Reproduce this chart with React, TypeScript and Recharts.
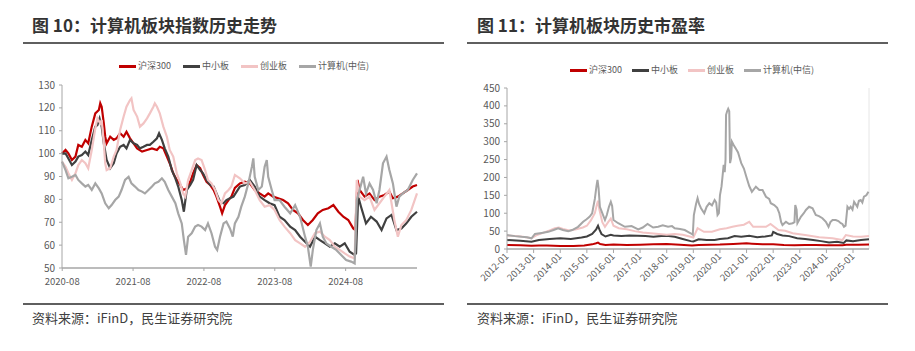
import React from 'react';
import { LineChart, Line, XAxis, YAxis, ReferenceLine } from 'recharts';

const FONT = '"Microsoft YaHei", "Noto Sans CJK SC", sans-serif';

const seriesNames = ['沪深300', '中小板', '创业板', '计算机(中信)'];
const seriesColors = ['#c00000', '#404040', '#f2c4c4', '#a6a6a6'];

// 图10: index history, points as [year, value]
const idxXTicks = [2020.583, 2021.583, 2022.583, 2023.583, 2024.583];
const idxXLabels = ['2020-08', '2021-08', '2022-08', '2023-08', '2024-08'];
const idxYTicks = [50, 60, 70, 80, 90, 100, 110, 120, 130];

const idxHs300: [number, number][] = [
    [2020.58, 100], [2020.63, 101.6], [2020.67, 100.1], [2020.72, 97.2], [2020.77, 98.7], [2020.81, 103.8],
    [2020.86, 103.0], [2020.91, 106.0], [2020.95, 104.5], [2021.0, 111.8], [2021.05, 117.6], [2021.1, 119.1],
    [2021.12, 122.0], [2021.14, 120.5], [2021.17, 113.2], [2021.19, 107.4], [2021.21, 104.5], [2021.26, 107.4],
    [2021.31, 106.0], [2021.35, 106.7], [2021.4, 108.9], [2021.45, 107.4], [2021.49, 109.6], [2021.54, 106.7],
    [2021.59, 104.5], [2021.64, 102.3], [2021.71, 100.9], [2021.78, 101.6], [2021.85, 102.3], [2021.92, 101.6],
    [2021.96, 103.0], [2022.01, 102.3], [2022.06, 98.7], [2022.1, 95.8], [2022.15, 91.4], [2022.2, 88.5],
    [2022.25, 86.3], [2022.29, 84.1], [2022.34, 84.8], [2022.39, 87.7], [2022.43, 91.4], [2022.48, 95.0],
    [2022.53, 93.6], [2022.57, 90.7], [2022.62, 87.7], [2022.67, 86.3], [2022.72, 84.1], [2022.76, 81.2],
    [2022.81, 76.8], [2022.84, 73.9], [2022.88, 77.5], [2022.93, 79.7], [2022.97, 81.2], [2023.02, 85.0],
    [2023.09, 87.0], [2023.16, 87.7], [2023.23, 87.0], [2023.3, 84.1], [2023.37, 82.6], [2023.44, 81.2],
    [2023.49, 82.6], [2023.56, 81.2], [2023.63, 80.5], [2023.7, 79.7], [2023.77, 78.3], [2023.84, 75.4],
    [2023.91, 73.9], [2023.98, 71.0], [2024.05, 68.8], [2024.12, 71.0], [2024.19, 73.9], [2024.26, 75.4],
    [2024.34, 76.1], [2024.41, 77.5], [2024.48, 74.6], [2024.55, 72.4], [2024.62, 71.0], [2024.69, 67.3],
    [2024.72, 66.6], [2024.75, 88.5], [2024.78, 84.1], [2024.85, 81.2], [2024.92, 82.6], [2024.99, 79.7],
    [2025.06, 81.2], [2025.13, 81.9], [2025.2, 83.4], [2025.25, 80.5], [2025.32, 81.2], [2025.39, 82.6],
    [2025.46, 84.1], [2025.53, 85.6], [2025.59, 86.3],
];

const idxSme: [number, number][] = [
    [2020.58, 100], [2020.63, 100.1], [2020.67, 97.9], [2020.72, 95.0], [2020.77, 96.5], [2020.81, 98.7],
    [2020.86, 99.4], [2020.91, 100.9], [2020.95, 99.4], [2021.0, 106.0], [2021.05, 111.8], [2021.08, 112.5],
    [2021.11, 115.4], [2021.14, 111.8], [2021.17, 104.5], [2021.21, 97.2], [2021.26, 93.6], [2021.31, 95.8],
    [2021.35, 100.1], [2021.4, 103.0], [2021.45, 103.8], [2021.49, 102.3], [2021.54, 106.0], [2021.59, 104.5],
    [2021.64, 103.8], [2021.68, 102.3], [2021.73, 103.0], [2021.78, 103.8], [2021.82, 103.8], [2021.87, 105.2],
    [2021.92, 106.7], [2021.95, 108.9], [2021.99, 106.0], [2022.03, 102.3], [2022.08, 98.7], [2022.13, 92.8],
    [2022.18, 89.2], [2022.22, 85.6], [2022.27, 79.7], [2022.3, 74.6], [2022.34, 84.1], [2022.39, 86.3],
    [2022.43, 88.5], [2022.48, 95.0], [2022.53, 92.8], [2022.57, 91.4], [2022.62, 88.5], [2022.67, 86.3],
    [2022.72, 85.6], [2022.76, 82.6], [2022.81, 79.0], [2022.86, 78.3], [2022.9, 79.7], [2022.95, 80.5],
    [2023.0, 81.2], [2023.09, 85.6], [2023.16, 86.3], [2023.23, 88.5], [2023.3, 85.6], [2023.37, 81.2],
    [2023.44, 79.7], [2023.51, 78.3], [2023.58, 77.5], [2023.65, 72.4], [2023.72, 71.0], [2023.8, 68.1],
    [2023.87, 66.6], [2023.94, 63.7], [2024.01, 61.5], [2024.08, 59.3], [2024.15, 63.7], [2024.22, 62.2],
    [2024.29, 60.8], [2024.36, 59.3], [2024.43, 60.8], [2024.5, 59.3], [2024.57, 60.8], [2024.64, 57.1],
    [2024.71, 55.7], [2024.73, 56.4], [2024.76, 81.2], [2024.8, 76.8], [2024.87, 69.5], [2024.94, 72.4],
    [2025.02, 70.3], [2025.09, 66.6], [2025.16, 71.7], [2025.23, 73.2], [2025.3, 66.6], [2025.37, 67.3],
    [2025.44, 69.5], [2025.51, 72.4], [2025.59, 74.6],
];

const idxGem: [number, number][] = [
    [2020.58, 96.5], [2020.63, 94.3], [2020.67, 91.4], [2020.72, 88.5], [2020.77, 91.4], [2020.81, 95.0],
    [2020.86, 97.2], [2020.91, 95.8], [2020.95, 93.6], [2021.0, 101.6], [2021.05, 111.1], [2021.08, 115.4],
    [2021.12, 113.2], [2021.14, 114.7], [2021.17, 104.5], [2021.19, 95.8], [2021.21, 92.8], [2021.26, 93.6],
    [2021.31, 98.7], [2021.35, 101.6], [2021.4, 110.3], [2021.45, 116.2], [2021.49, 120.5], [2021.54, 123.4],
    [2021.56, 124.2], [2021.59, 119.1], [2021.64, 116.2], [2021.68, 111.8], [2021.73, 113.2], [2021.78, 115.4],
    [2021.82, 117.6], [2021.87, 120.5], [2021.89, 122.0], [2021.92, 120.5], [2021.96, 117.6], [2022.01, 111.8],
    [2022.06, 107.4], [2022.1, 101.6], [2022.15, 98.7], [2022.2, 91.4], [2022.25, 87.0], [2022.29, 82.6],
    [2022.32, 81.2], [2022.36, 88.5], [2022.41, 92.8], [2022.46, 97.2], [2022.5, 97.9], [2022.55, 97.2],
    [2022.6, 92.8], [2022.64, 88.5], [2022.69, 87.0], [2022.74, 84.1], [2022.79, 79.7], [2022.83, 78.3],
    [2022.88, 82.6], [2022.93, 84.1], [2022.97, 85.6], [2023.02, 90.7], [2023.09, 89.2], [2023.16, 87.0],
    [2023.23, 87.7], [2023.3, 84.1], [2023.37, 79.7], [2023.44, 76.8], [2023.51, 77.5], [2023.58, 75.4],
    [2023.65, 71.0], [2023.72, 68.1], [2023.8, 65.2], [2023.87, 62.2], [2023.94, 60.8], [2024.01, 59.3],
    [2024.08, 61.5], [2024.15, 65.2], [2024.22, 65.9], [2024.29, 63.7], [2024.36, 62.2], [2024.43, 59.3],
    [2024.5, 57.9], [2024.57, 56.4], [2024.64, 55.0], [2024.71, 54.2], [2024.74, 88.5], [2024.78, 81.2],
    [2024.85, 79.7], [2024.92, 81.2], [2024.99, 75.4], [2025.06, 78.3], [2025.13, 81.2], [2025.2, 84.1],
    [2025.27, 71.0], [2025.32, 63.7], [2025.37, 68.8], [2025.44, 71.0], [2025.51, 75.4], [2025.59, 82.6],
];

const idxComputer: [number, number][] = [
    [2020.58, 96.5], [2020.63, 92.8], [2020.67, 89.2], [2020.72, 89.9], [2020.77, 90.7], [2020.81, 88.5],
    [2020.86, 87.0], [2020.91, 85.6], [2020.95, 86.3], [2021.0, 84.1], [2021.05, 87.0], [2021.1, 84.8],
    [2021.14, 82.6], [2021.19, 78.3], [2021.24, 76.1], [2021.28, 77.5], [2021.33, 79.7], [2021.38, 81.2],
    [2021.42, 84.1], [2021.47, 88.5], [2021.52, 89.9], [2021.56, 87.0], [2021.61, 85.6], [2021.66, 84.1],
    [2021.71, 83.4], [2021.75, 82.6], [2021.8, 84.1], [2021.85, 85.6], [2021.89, 87.0], [2021.94, 87.7],
    [2021.99, 89.2], [2022.03, 87.7], [2022.08, 84.1], [2022.13, 81.2], [2022.18, 78.3], [2022.22, 73.9],
    [2022.27, 69.5], [2022.3, 62.2], [2022.33, 55.7], [2022.36, 63.7], [2022.41, 65.2], [2022.46, 68.1],
    [2022.5, 68.8], [2022.55, 68.1], [2022.6, 66.6], [2022.64, 69.5], [2022.69, 65.2], [2022.74, 59.3],
    [2022.77, 57.9], [2022.81, 63.7], [2022.86, 69.5], [2022.9, 70.3], [2022.95, 67.3], [2022.99, 63.7],
    [2023.02, 69.5], [2023.07, 72.4], [2023.11, 76.8], [2023.16, 81.2], [2023.21, 87.0], [2023.26, 94.3],
    [2023.28, 97.9], [2023.3, 89.9], [2023.35, 84.1], [2023.4, 85.6], [2023.44, 94.3], [2023.47, 97.2],
    [2023.49, 89.9], [2023.54, 84.1], [2023.58, 79.7], [2023.65, 79.7], [2023.72, 76.8], [2023.8, 73.9],
    [2023.87, 77.5], [2023.94, 72.4], [2024.01, 63.7], [2024.05, 59.3], [2024.09, 50.6], [2024.12, 57.9],
    [2024.17, 66.6], [2024.22, 69.5], [2024.26, 63.7], [2024.31, 60.8], [2024.38, 59.3], [2024.45, 57.9],
    [2024.52, 55.7], [2024.59, 53.5], [2024.66, 52.8], [2024.71, 52.0], [2024.74, 79.7], [2024.78, 84.1],
    [2024.83, 89.9], [2024.87, 82.6], [2024.92, 87.0], [2024.97, 84.1], [2025.02, 78.3], [2025.06, 84.1],
    [2025.11, 95.8], [2025.16, 98.7], [2025.2, 92.8], [2025.25, 87.0], [2025.3, 76.8], [2025.34, 81.2],
    [2025.39, 82.6], [2025.46, 84.1], [2025.53, 88.5], [2025.59, 91.4],
];

// 图11: PE history, points as [year, PE]
const peXTicks = [2012, 2013, 2014, 2015, 2016, 2017, 2018, 2019, 2020, 2021, 2022, 2023, 2024, 2025];
const peXLabels = ['2012-01', '2013-01', '2014-01', '2015-01', '2016-01', '2017-01', '2018-01',
    '2019-01', '2020-01', '2021-01', '2022-01', '2023-01', '2024-01', '2025-01'];
const peYTicks = [0, 50, 100, 150, 200, 250, 300, 350, 400, 450];

const peHs300: [number, number][] = [
    [2012.0, 11], [2012.5, 10.5], [2012.92, 9], [2013.2, 10], [2013.5, 9.5], [2014.0, 8.5], [2014.5, 8.5],
    [2014.9, 10], [2015.2, 13], [2015.35, 16], [2015.42, 18], [2015.5, 14], [2015.7, 11.5], [2016.0, 12.5],
    [2016.5, 11.5], [2017.0, 12], [2017.5, 13], [2018.0, 14], [2018.5, 12], [2018.95, 10], [2019.2, 11.5],
    [2019.6, 12], [2020.0, 12.5], [2020.5, 14], [2021.0, 16], [2021.2, 15], [2021.6, 13], [2022.0, 13],
    [2022.4, 11], [2022.8, 10.5], [2023.2, 11.5], [2023.6, 11], [2024.0, 10.5], [2024.6, 10.5],
    [2024.75, 12], [2025.2, 12], [2025.6, 12.5],
];

const peSme: [number, number][] = [
    [2012.0, 25], [2012.5, 23], [2012.92, 20], [2013.2, 25], [2013.6, 28], [2014.0, 30], [2014.4, 28],
    [2014.8, 32], [2015.0, 35], [2015.2, 42], [2015.35, 55], [2015.42, 65], [2015.47, 55], [2015.55, 42],
    [2015.7, 35], [2015.9, 40], [2016.0, 38], [2016.3, 36], [2016.6, 38], [2016.9, 37], [2017.2, 36],
    [2017.5, 34], [2017.8, 36], [2018.0, 37], [2018.3, 34], [2018.6, 28], [2018.9, 22], [2019.0, 21],
    [2019.2, 27], [2019.5, 25], [2019.8, 25], [2020.0, 28], [2020.3, 30], [2020.55, 36], [2020.8, 34],
    [2021.1, 37], [2021.4, 33], [2021.7, 35], [2021.95, 38], [2022.0, 48], [2022.15, 42], [2022.35, 38],
    [2022.6, 36], [2022.9, 30], [2023.2, 28], [2023.5, 25], [2023.8, 22], [2024.1, 18], [2024.4, 20],
    [2024.65, 17], [2024.75, 24], [2025.0, 22], [2025.3, 25], [2025.6, 27],
];

const peGem: [number, number][] = [
    [2012.0, 38], [2012.3, 36], [2012.6, 34], [2012.92, 30], [2013.1, 38], [2013.35, 45], [2013.6, 52],
    [2013.8, 58], [2013.95, 60], [2014.1, 56], [2014.35, 52], [2014.6, 55], [2014.85, 60], [2015.0, 65],
    [2015.15, 80], [2015.3, 100], [2015.38, 125], [2015.42, 135], [2015.47, 110], [2015.58, 75],
    [2015.68, 62], [2015.8, 75], [2015.9, 85], [2016.0, 65], [2016.2, 58], [2016.5, 55], [2016.8, 50],
    [2017.1, 46], [2017.4, 44], [2017.7, 42], [2018.0, 40], [2018.3, 42], [2018.6, 40], [2018.9, 34],
    [2019.0, 32], [2019.16, 58], [2019.4, 48], [2019.7, 48], [2020.0, 55], [2020.25, 58], [2020.47, 62],
    [2020.66, 65], [2020.9, 68], [2021.1, 76], [2021.25, 62], [2021.5, 62], [2021.73, 62], [2021.9, 70],
    [2022.2, 53], [2022.45, 51], [2022.73, 44], [2023.2, 39], [2023.73, 33], [2024.23, 30], [2024.6, 25],
    [2024.73, 39], [2025.0, 35], [2025.3, 34], [2025.6, 36],
];

const peComputer: [number, number][] = [
    [2012.0, 39], [2012.3, 36], [2012.55, 34], [2012.75, 33], [2012.92, 30], [2013.05, 42], [2013.3, 45],
    [2013.55, 48], [2013.75, 53], [2013.92, 58], [2014.1, 53], [2014.3, 50], [2014.45, 53], [2014.67, 62],
    [2014.86, 76], [2014.99, 83], [2015.1, 90], [2015.2, 100], [2015.3, 140], [2015.36, 175], [2015.4, 193],
    [2015.44, 170], [2015.49, 118], [2015.58, 100], [2015.68, 81], [2015.75, 95], [2015.83, 118],
    [2015.9, 132], [2015.95, 120], [2016.0, 81], [2016.18, 72], [2016.43, 62], [2016.68, 64], [2016.93, 55],
    [2017.1, 60], [2017.28, 70], [2017.49, 60], [2017.68, 62], [2017.85, 66], [2018.05, 62], [2018.2, 64],
    [2018.3, 58], [2018.5, 56], [2018.68, 53], [2018.8, 48], [2018.9, 44], [2018.98, 40], [2019.02, 95],
    [2019.1, 125], [2019.16, 142], [2019.22, 125], [2019.29, 114], [2019.41, 100], [2019.5, 118],
    [2019.6, 128], [2019.7, 122], [2019.8, 137], [2019.86, 130], [2019.91, 95], [2019.96, 100],
    [2020.0, 150], [2020.06, 175], [2020.1, 205], [2020.14, 235], [2020.18, 215], [2020.21, 250],
    [2020.23, 375], [2020.27, 385], [2020.31, 392], [2020.35, 385], [2020.38, 240], [2020.42, 255],
    [2020.45, 300], [2020.52, 290], [2020.6, 280], [2020.68, 270], [2020.8, 240], [2020.9, 225],
    [2021.0, 200], [2021.1, 176], [2021.2, 160], [2021.35, 174], [2021.48, 165], [2021.6, 165],
    [2021.73, 146], [2021.85, 140], [2021.91, 128], [2022.04, 123], [2022.15, 115], [2022.23, 100],
    [2022.3, 75], [2022.35, 67], [2022.48, 76], [2022.6, 70], [2022.73, 72], [2022.8, 75], [2022.83, 123],
    [2022.88, 110], [2022.91, 72], [2023.04, 90], [2023.15, 100], [2023.23, 109], [2023.35, 118],
    [2023.48, 114], [2023.6, 95], [2023.72, 92], [2023.85, 86], [2023.98, 76], [2024.08, 62], [2024.15, 75],
    [2024.23, 81], [2024.35, 81], [2024.45, 78], [2024.54, 72], [2024.6, 70], [2024.66, 62], [2024.72, 65],
    [2024.79, 118], [2024.85, 112], [2024.91, 118], [2024.98, 110], [2025.04, 132], [2025.1, 125],
    [2025.16, 118], [2025.22, 135], [2025.29, 137], [2025.35, 130], [2025.41, 146], [2025.5, 150],
    [2025.58, 160],
];

const pts = (arr: [number, number][]) => arr.map(([t, v]) => ({ t, v }));

const tickStyle = { fontSize: 10, fill: '#595959', fontFamily: FONT };
const axisGray = '#a6a6a6';

function LegendRow({ left, top, gap }: { left: number; top: number; gap: number }) {
    return (
        <div style={{ position: 'absolute', left, top, display: 'flex', alignItems: 'center', fontSize: 9, color: '#595959', whiteSpace: 'nowrap', lineHeight: '12px' }}>
            {seriesNames.map((name, i) => (
                <div key={name} style={{ display: 'flex', alignItems: 'center', marginRight: i < seriesNames.length - 1 ? gap : 0 }}>
                    <span style={{ display: 'inline-block', width: 17, height: 3, background: seriesColors[i], marginRight: 2 }} />
                    <span>{name}</span>
                </div>
            ))}
        </div>
    );
}

function Header({ left, ruleLeft, text }: { left: number; ruleLeft: number; text: string }) {
    return (
        <>
            <div style={{ position: 'absolute', left, top: 15, fontSize: 17, fontWeight: 700, color: '#333', lineHeight: '20px', whiteSpace: 'nowrap' }}>{text}</div>
            <div style={{ position: 'absolute', left: ruleLeft, top: 42, width: 421, height: 2, background: '#5f5f5f' }} />
            <div style={{ position: 'absolute', left: ruleLeft, top: 303, width: 421, height: 2, background: '#5f5f5f' }} />
            <div style={{ position: 'absolute', left, top: 310, fontSize: 13, color: '#404040', lineHeight: '16px', whiteSpace: 'nowrap' }}>资料来源：iFinD，民生证券研究院</div>
        </>
    );
}

const RotatedTick = (props: any) => {
    const { x, y, payload } = props;
    const label = peXLabels[peXTicks.indexOf(payload.value)] ?? '';
    return (
        <text x={x} y={y} dy={3} textAnchor="end" fontSize={9.5} fill="#595959" fontFamily={FONT} transform={`rotate(-45 ${x} ${y})`}>
            {label}
        </text>
    );
};

const idxSeries = [idxHs300, idxSme, idxGem, idxComputer];
const peSeries = [peHs300, peSme, peGem, peComputer];

export default function App() {
    return (
        <div style={{ position: 'absolute', left: 0, top: 0, width: 915, height: 351, background: '#fff', fontFamily: FONT, overflow: 'hidden' }}>
            <Header left={32} ruleLeft={23} text="图 10：计算机板块指数历史走势" />
            <Header left={477} ruleLeft={467} text="图 11：计算机板块历史市盈率" />

            <LegendRow left={119} top={60} gap={12} />
            <LegendRow left={570} top={64} gap={10} />

            <div style={{ position: 'absolute', left: 0, top: 75 }}>
                <LineChart width={450} height={225} margin={{ top: 10, right: 33, bottom: 10, left: 12 }}>
                    <XAxis
                        type="number"
                        dataKey="t"
                        domain={[2020.583, 2025.59]}
                        ticks={idxXTicks}
                        tickFormatter={(v: number) => idxXLabels[idxXTicks.indexOf(v)] ?? ''}
                        height={22}
                        tick={{ ...tickStyle, fontSize: 9.5 }}
                        tickSize={3}
                        tickMargin={7}
                        axisLine={{ stroke: axisGray, strokeWidth: 1.5 }}
                        tickLine={{ stroke: axisGray }}
                        interval={0}
                    />
                    <YAxis
                        type="number"
                        domain={[50, 130]}
                        ticks={idxYTicks}
                        width={50}
                        tick={tickStyle}
                        tickSize={3}
                        tickMargin={4}
                        axisLine={{ stroke: axisGray }}
                        tickLine={{ stroke: axisGray }}
                        interval={0}
                    />
                    {idxSeries.map((s, i) => (
                        <Line
                            key={seriesNames[i]}
                            data={pts(s)}
                            dataKey="v"
                            name={seriesNames[i]}
                            stroke={seriesColors[i]}
                            strokeWidth={2.2}
                            dot={false}
                            type="linear"
                            isAnimationActive={false}
                        />
                    ))}
                </LineChart>
            </div>

            <div style={{ position: 'absolute', left: 460, top: 75 }}>
                <LineChart width={420} height={225} margin={{ top: 13, right: 11, bottom: 6, left: 7 }}>
                    <XAxis
                        type="number"
                        dataKey="t"
                        domain={[2012, 2025.6]}
                        ticks={peXTicks}
                        height={45}
                        tick={<RotatedTick />}
                        tickSize={4}
                        tickMargin={2}
                        axisLine={{ stroke: axisGray, strokeWidth: 1.5 }}
                        tickLine={{ stroke: axisGray }}
                        interval={0}
                    />
                    <YAxis
                        type="number"
                        domain={[0, 450]}
                        ticks={peYTicks}
                        width={40}
                        tick={tickStyle}
                        tickSize={3}
                        tickMargin={4}
                        axisLine={{ stroke: axisGray }}
                        tickLine={{ stroke: axisGray }}
                        interval={0}
                    />
                    <ReferenceLine x={2025.6} stroke="#e6e6e6" />
                    {peSeries.map((s, i) => (
                        <Line
                            key={seriesNames[i]}
                            data={pts(s)}
                            dataKey="v"
                            name={seriesNames[i]}
                            stroke={seriesColors[i]}
                            strokeWidth={2}
                            dot={false}
                            type="linear"
                            isAnimationActive={false}
                        />
                    ))}
                </LineChart>
            </div>
        </div>
    );
}
